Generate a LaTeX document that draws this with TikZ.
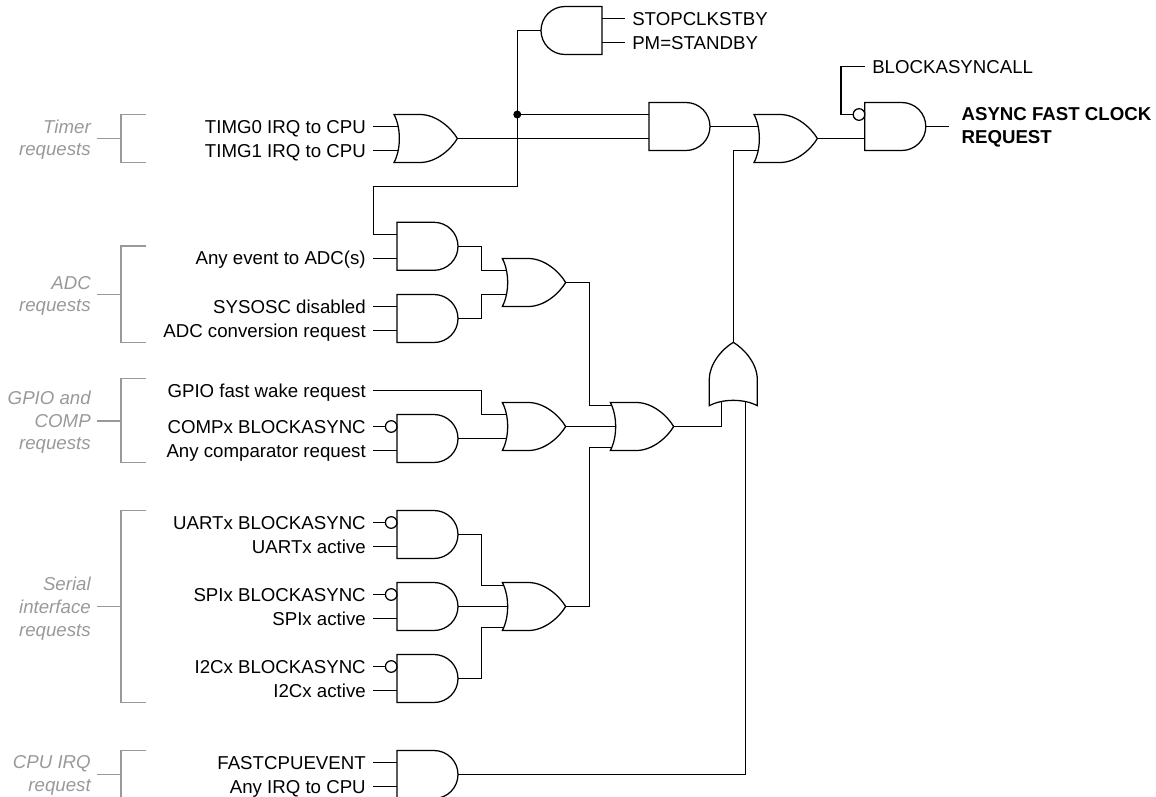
\documentclass[tikz,border=0pt]{standalone}
\usepackage{fontspec}
\setmainfont{Liberation Sans}
\definecolor{bracketgray}{HTML}{999999}
% AND gate outline, output to the right
\pgfdeclareshape{andgateshape}{
  \anchor{center}{\pgfpointorigin}
  \anchor{text}{\pgfpointorigin}
  \anchor{input 1}{\pgfqpoint{-22.875pt}{9pt}}
  \anchor{input 2}{\pgfqpoint{-22.875pt}{-9pt}}
  \anchor{output}{\pgfqpoint{22.875pt}{0pt}}
  \backgroundpath{
    \pgfpathmoveto{\pgfqpoint{-22.875pt}{18pt}}
    \pgfpathlineto{\pgfqpoint{4.875pt}{18pt}}
    \pgfpatharc{90}{-90}{18pt}
    \pgfpathlineto{\pgfqpoint{-22.875pt}{-18pt}}
    \pgfpathclose
  }
}
% OR gate outline, output to the right
\pgfdeclareshape{orgateshape}{
  \anchor{center}{\pgfpointorigin}
  \anchor{text}{\pgfpointorigin}
  \anchor{input 1}{\pgfqpoint{-20.67pt}{9pt}}
  \anchor{input 2}{\pgfqpoint{-20.67pt}{-9pt}}
  \anchor{input top}{\pgfqpoint{-22.7pt}{15.75pt}}
  \anchor{input mid}{\pgfqpoint{-19.75pt}{0pt}}
  \anchor{input bot}{\pgfqpoint{-22.7pt}{-15.75pt}}
  \anchor{output}{\pgfqpoint{23.75pt}{0pt}}
  \backgroundpath{
    \pgfpathmoveto{\pgfqpoint{-23.75pt}{18pt}}
    \pgfpathlineto{\pgfqpoint{-4.25pt}{18pt}}
    \pgfpathcurveto{\pgfqpoint{8pt}{18pt}}{\pgfqpoint{19pt}{8pt}}{\pgfqpoint{23.75pt}{0pt}}
    \pgfpathcurveto{\pgfqpoint{19pt}{-8pt}}{\pgfqpoint{8pt}{-18pt}}{\pgfqpoint{-4.25pt}{-18pt}}
    \pgfpathlineto{\pgfqpoint{-23.75pt}{-18pt}}
    \pgfpathcurveto{\pgfqpoint{-18.42pt}{-8pt}}{\pgfqpoint{-18.42pt}{8pt}}{\pgfqpoint{-23.75pt}{18pt}}
    \pgfpathclose
  }
}
\tikzset{
  wire/.style={black, line width=0.95pt},
  bracket/.style={bracketgray, line width=0.95pt},
  andgate/.style={shape=andgateshape, draw, line width=0.95pt},
  orgate/.style={shape=orgateshape, draw, line width=0.95pt},
  bubble/.style={circle, draw, line width=0.95pt, inner sep=0pt, outer sep=0pt, minimum size=8.7pt, anchor=east},
  jointdot/.style={circle, fill, inner sep=0pt, outer sep=0pt, minimum size=6pt},
  siglabel/.style={anchor=east, inner ysep=0pt, inner xsep=5.25pt, text height=13pt, text depth=3pt,
    font=\fontsize{14}{17}\selectfont},
  siglabelr/.style={siglabel, anchor=west},
  grouplabel/.style={anchor=east, inner ysep=0pt, inner xsep=4.5pt, align=right, text=bracketgray,
    font=\fontsize{14}{17}\selectfont\itshape}
}
\begin{document}
\begin{tikzpicture}[x=0.75pt, y=-0.75pt]
  \path[clip, use as bounding box] (0,0) rectangle (1156,796);
  \def\andx{427.5}
  \def\orx{534}

  % Draw the gates of the first column
  \node[orgate] (gtimer) at (425.7,138.5) {};
  \node[andgate] (gadca) at (\andx,246.3) {};
  \node[andgate] (gadcb) at (\andx,318.5) {};
  \node[andgate] (gcomp) at (\andx,438.5) {};
  \node[andgate] (guart) at (\andx,534.5) {};
  \node[andgate] (gspi) at (\andx,606.5) {};
  \node[andgate] (gitwoc) at (\andx,678.5) {};
  \node[andgate] (gcpu) at (\andx,774.5) {};

  % Draw the gates of the second column
  \node[orgate] (gadc) at (\orx,282.5) {};
  \node[orgate] (ggpio) at (\orx,426.5) {};
  \node[orgate] (gserial) at (\orx,606.5) {};

  % Draw the remaining gates
  \node[orgate] (gmerge) at (642,426.5) {};
  \node[orgate, rotate=90] (gall) at (733.3,374) {};
  \node[andgate, rotate=180] (gstop) at (571.5,30.5) {};
  \node[andgate] (gtimclk) at (679.5,126.5) {};
  \node[orgate] (gmain) at (785.7,138.5) {};
  \node[andgate] (gfinal) at (895.3,126.5) {};

  % Draw the inverted inputs
  \node[bubble] (bcomp) at (gcomp.input 1) {};
  \node[bubble] (buart) at (guart.input 1) {};
  \node[bubble] (bspi) at (gspi.input 1) {};
  \node[bubble] (bitwoc) at (gitwoc.input 1) {};
  \node[bubble] (bfinal) at (gfinal.input 1) {};

  % Draw the input labels
  \node[siglabel] (ltimgz) at (373,126.5) {TIMG0 IRQ to CPU};
  \node[siglabel] (ltimgo) at (373,150.5) {TIMG1 IRQ to CPU};
  \node[siglabel] (lanyadc) at (373,258.3) {Any event to ADC(s)};
  \node[siglabel] (lsysosc) at (373,306.5) {SYSOSC disabled};
  \node[siglabel] (ladcconv) at (373,330.5) {ADC conversion request};
  \node[siglabel] (lgpio) at (373,390.7) {GPIO fast wake request};
  \node[siglabel] (lcompb) at (373,426.5) {COMPx BLOCKASYNC};
  \node[siglabel] (lcompr) at (373,450.5) {Any comparator request};
  \node[siglabel] (luartb) at (373,522.5) {UARTx BLOCKASYNC};
  \node[siglabel] (luarta) at (373,546.5) {UARTx active};
  \node[siglabel] (lspib) at (373,594.5) {SPIx BLOCKASYNC};
  \node[siglabel] (lspia) at (373,618.5) {SPIx active};
  \node[siglabel] (litwob) at (373,666.5) {I2Cx BLOCKASYNC};
  \node[siglabel] (litwoa) at (373,690.5) {I2Cx active};
  \node[siglabel] (lfast) at (373,762.5) {FASTCPUEVENT};
  \node[siglabel] (lanyirq) at (373,786.5) {Any IRQ to CPU};
  \node[siglabelr] (lstop) at (625,18.5) {STOPCLKSTBY};
  \node[siglabelr] (lpm) at (625,42.5) {PM=STANDBY};
  \node[siglabelr] (lblock) at (865,66.7) {BLOCKASYNCALL};

  % Draw the output label
  \node[anchor=west, inner ysep=0pt, inner xsep=9pt, align=left,
    font=\fontsize{14}{17}\selectfont\bfseries] (lout) at (949.3,127.5) {ASYNC FAST CLOCK\\REQUEST};

  % Draw the input wires
  \draw[wire] (ltimgz.east) -- (gtimer.input 1);
  \draw[wire] (ltimgo.east) -- (gtimer.input 2);
  \draw[wire] (lanyadc.east) -- (gadca.input 2);
  \draw[wire] (lsysosc.east) -- (gadcb.input 1);
  \draw[wire] (ladcconv.east) -- (gadcb.input 2);
  \draw[wire] (lcompb.east) -- (bcomp.west);
  \draw[wire] (lcompr.east) -- (gcomp.input 2);
  \draw[wire] (luartb.east) -- (buart.west);
  \draw[wire] (luarta.east) -- (guart.input 2);
  \draw[wire] (lspib.east) -- (bspi.west);
  \draw[wire] (lspia.east) -- (gspi.input 2);
  \draw[wire] (litwob.east) -- (bitwoc.west);
  \draw[wire] (litwoa.east) -- (gitwoc.input 2);
  \draw[wire] (lfast.east) -- (gcpu.input 1);
  \draw[wire] (lanyirq.east) -- (gcpu.input 2);
  \draw[wire] (lstop.west) -- (gstop.input 2);
  \draw[wire] (lpm.west) -- (gstop.input 1);
  \draw[wire] (lblock.west) -- ++(-24,0) |- (bfinal.west);

  % Draw the wires between the gates
  \node[jointdot] (jtop) at (517.3,114.5) {};
  \coordinate (jmid) at (517.3,186.5);
  \coordinate (jleft) at (373.3,234.3);
  \draw[wire] (gstop.output) -| (jmid) -| (jleft) -- (gadca.input 1);
  \draw[wire] (gtimer.output) -- (gtimclk.input 2);
  \draw[wire] (jtop.center) -- (gtimclk.input 1);
  \draw[wire] (gadca.output) -- ++(23.5,0) |- (gadc.input 1);
  \draw[wire] (gadcb.output) -- ++(23.5,0) |- (gadc.input 2);
  \draw[wire] (lgpio.east) -- ++(108.3,0) |- (ggpio.input 1);
  \draw[wire] (gcomp.output) -- (ggpio.input 2);
  \draw[wire] (guart.output) -- ++(23.5,0) |- (gserial.input top);
  \draw[wire] (gspi.output) -- (gserial.input mid);
  \draw[wire] (gitwoc.output) -- ++(23.5,0) |- (gserial.input bot);
  \draw[wire] (gadc.output) -- ++(23.6,0) |- (gmerge.input top);
  \draw[wire] (ggpio.output) -- (gmerge.input mid);
  \draw[wire] (gserial.output) -- ++(23.6,0) |- (gmerge.input bot);
  \draw[wire] (gmerge.output) -| (gall.input 1);
  \draw[wire] (gcpu.output) -| (gall.input 2);
  \draw[wire] (gtimclk.output) -- (gmain.input 1);
  \draw[wire] (gall.output) |- (gmain.input 2);
  \draw[wire] (gmain.output) -- (gfinal.input 2);
  \draw[wire] (gfinal.output) -- (gfinal.output -| lout.west);

  % Draw the request groups
  \node[grouplabel] (ltimer) at (97,139.8) {Timer\\requests};
  \node[grouplabel] (ladc) at (97,295.8) {ADC\\requests};
  \node[grouplabel] (lgpiocomp) at (97,422.2) {GPIO and\\COMP\\requests};
  \node[grouplabel] (lserial) at (97,608.5) {Serial\\interface\\requests};
  \node[grouplabel] (lcpuirq) at (97,775.6) {CPU IRQ\\request};
  \coordinate (ttimer) at (121,138.3);
  \coordinate (tadc) at (121,294.3);
  \coordinate (tgpio) at (121,421);
  \coordinate (tserial) at (121,606.7);
  \coordinate (tcpu) at (121,774.3);
  \draw[bracket] (146,114.3) -| (121,162.3) -- (146,162.3);
  \draw[bracket] (ttimer -| ltimer.east) -- (ttimer);
  \draw[bracket] (146,246) -| (121,342.7) -- (146,342.7);
  \draw[bracket] (tadc -| ladc.east) -- (tadc);
  \draw[bracket] (146,378.7) -| (121,462.3) -- (146,462.3);
  \draw[bracket] (tgpio -| lgpiocomp.east) -- (tgpio);
  \draw[bracket] (146,510.7) -| (121,702.3) -- (146,702.3);
  \draw[bracket] (tserial -| lserial.east) -- (tserial);
  \draw[bracket] (146,750.7) -| (121,800);
  \draw[bracket] (tcpu -| lcpuirq.east) -- (tcpu);
\end{tikzpicture}
\end{document}
